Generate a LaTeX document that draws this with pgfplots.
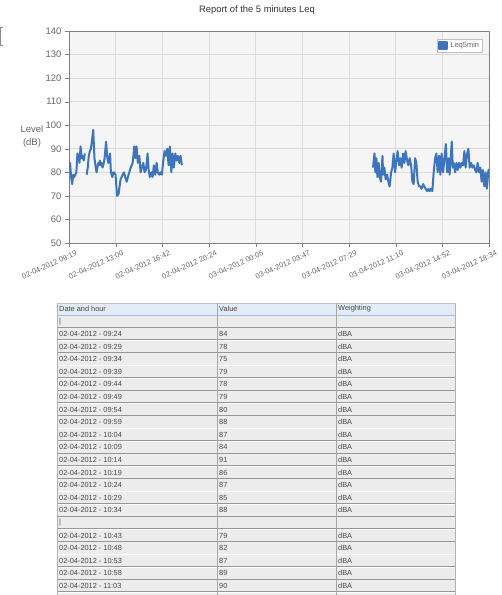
\documentclass[border=0pt]{standalone}
\usepackage{pgfplots}
\pgfplotsset{compat=1.18}
\usepackage{fontspec}
\setmainfont{Liberation Sans}
\definecolor{lineblue}{RGB}{62,116,190}
\definecolor{headfill}{RGB}{226,235,246}
\definecolor{headline}{RGB}{160,190,222}
\definecolor{rowfill}{RGB}{236,236,236}
\definecolor{sepcol}{RGB}{150,150,150}
\definecolor{txt}{RGB}{70,70,70}
\begin{document}
\begin{tikzpicture}[x=1bp,y=1bp]
\useasboundingbox (0,0) rectangle (502,595);
\draw[black!45, line width=0.6bp] (2.5,568) -- (0.5,568) -- (0.5,550) -- (2.5,550);
\node[font=\fontsize{9.4}{11}\selectfont, text=black!80] at (257,585) {Report of the 5 minutes Leq};
\node[align=center, font=\fontsize{9.5}{13}\selectfont, text=black!60] at (32,458) {Level\\(dB)};

\begin{axis}[
  at={(69bp,352bp)}, anchor=south west,
  scale only axis, width=420bp, height=212bp,
  xmin=0, xmax=1995, ymin=50, ymax=140,
  ytick={50,60,...,140},
  xtick={0,221.67,443.33,665,886.67,1108.33,1330,1551.67,1773.33,1995},
  xticklabels={02-04-2012 09:19,02-04-2012 13:00,02-04-2012 16:42,02-04-2012 20:24,03-04-2012 00:05,03-04-2012 03:47,03-04-2012 07:29,03-04-2012 11:10,03-04-2012 14:52,03-04-2012 18:34},
  grid=major, major grid style={draw=black!14, line width=0.6bp},
  axis background/.style={fill=black!4},
  axis line style={draw=black!50, line width=0.9bp},
  tick style={draw=black!50},
  xtick pos=bottom, ytick pos=left,
  tick align=outside, major tick length=4bp,
  /pgf/number format/assume math mode=true,
  yticklabel style={font=\fontsize{9.5}{10}\selectfont, text=black!60},
  xticklabel style={font=\fontsize{7.5}{8}\selectfont, text=black!60, rotate=24, anchor=north east, inner sep=0.5pt, xshift=5bp, yshift=-5bp},
  unbounded coords=jump,
  legend style={at={(0.984,0.962)}, anchor=north east, font=\fontsize{7.5}{8}\selectfont, text=black!60, draw=black!25, fill=white, inner sep=1pt, row sep=0pt},
  legend cell align=left,
]
\addplot[lineblue, line width=2bp, line join=round,
  legend image code/.code={\fill[lineblue] (0bp,-3.5bp) rectangle (8bp,3.5bp);}]
coordinates {
(0,84) (5,84) (10,78) (15,75) (20,79) (25,78) (30,79) (35,80) (40,88) (45,87) (50,84) (55,91) (60,86) (65,87) (70,85) (75,88) (80,nan)
(84,79) (89,82) (94,87) (99,89) (104,90) (110,94) (115,98) (121,86) (127,82) (131,80) (139,84) (143,83) (147,85) (151,83) (155,84) (159,82) (163,83) (169,86) (176,93) (182,86) (187,84) (191,86) (195,88) (199,80) (206,78) (210,80) (214,80) (221,79) (225,74) (229,70) (236,71) (240,74) (245,77) (250,78) (255,79) (261,80) (267,78) (274,76) (280,78) (286,80) (293,82) (298,83) (302,84) (306,87) (310,91) (316,86) (321,91) (327,84) (334,87) (340,80) (346,82) (353,84) (359,80) (365,81) (369,84) (373,88) (378,81) (384,78) (391,80) (397,78) (403,83) (410,79) (416,84) (422,80) (429,79) (435,80) (441,79) (448,85) (454,89) (460,87) (467,90) (473,83) (479,91) (486,80) (492,88) (498,82) (505,88) (511,85) (517,87) (524,84) (530,87) (536,83) (540,nan)
(1444,82) (1451,88) (1455,80) (1460,86) (1465,78) (1471,84) (1476,78) (1482,76) (1489,87) (1492,79) (1498,82) (1504,77) (1511,79) (1517,76) (1523,74) (1530,80) (1536,82) (1542,88) (1549,80) (1555,85) (1561,89) (1568,83) (1574,86) (1580,82) (1587,88) (1593,84) (1599,89) (1606,85) (1612,83) (1618,86) (1625,83) (1631,76) (1637,75) (1644,86) (1650,84) (1656,76) (1663,74) (1669,74) (1675,73) (1682,75) (1688,74) (1694,73) (1701,72) (1707,73) (1713,72) (1720,73) (1726,72) (1732,80) (1739,86) (1745,88) (1751,80) (1758,87) (1764,79) (1770,88) (1777,80) (1790,92) (1796,80) (1802,86) (1808,79) (1818,93) (1823,82) (1827,84) (1834,80) (1840,84) (1846,81) (1853,84) (1859,82) (1865,84) (1872,83) (1878,89) (1884,82) (1891,88) (1897,90) (1903,82) (1910,84) (1916,82) (1922,83) (1929,81) (1935,80) (1941,84) (1948,80) (1954,82) (1960,76) (1966,81) (1973,74) (1979,80) (1985,73) (1992,81) (1995,81)
};
\addlegendentry{Leq5min}
\end{axis}

% ---- table ----
\fill[headfill] (57,292) rectangle (455,280);
\draw[headline, line width=0.8bp] (57,280) -- (455,280);
\draw[black!25, line width=0.5bp] (57,292) -- (455,292);
\begin{scope}[every node/.style={anchor=west, font=\fontsize{7.4}{8}\selectfont, text=txt, inner sep=0pt}]
\node at (59,286) {Date and hour};
\node at (219,286) {Value};
\node at (338,286) {Weighting};
\foreach [count=\i from 0] \d/\v/\w in {
 {|}/{}/{},
 02-04-2012 - 09:24/84/dBA,
 02-04-2012 - 09:29/78/dBA,
 02-04-2012 - 09:34/75/dBA,
 02-04-2012 - 09:39/79/dBA,
 02-04-2012 - 09:44/78/dBA,
 02-04-2012 - 09:49/79/dBA,
 02-04-2012 - 09:54/80/dBA,
 02-04-2012 - 09:59/88/dBA,
 02-04-2012 - 10:04/87/dBA,
 02-04-2012 - 10:09/84/dBA,
 02-04-2012 - 10:14/91/dBA,
 02-04-2012 - 10:19/86/dBA,
 02-04-2012 - 10:24/87/dBA,
 02-04-2012 - 10:29/85/dBA,
 02-04-2012 - 10:34/88/dBA,
 {|}/{}/{},
 02-04-2012 - 10:43/79/dBA,
 02-04-2012 - 10:48/82/dBA,
 02-04-2012 - 10:53/87/dBA,
 02-04-2012 - 10:58/89/dBA,
 02-04-2012 - 11:03/90/dBA,
 {}/{}/{}}{
  \pgfmathsetmacro\top{280-\i*12.6}
  \pgfmathsetmacro\bot{\top-12.6}
  \pgfmathsetmacro\mid{\top-6.3}
  \fill[rowfill] (57,\top-0.6) rectangle (455,\bot+0.6);
  \draw[sepcol, line width=0.8bp] (57,\bot+0.4) -- (455,\bot+0.4);
  \draw[white, line width=0.5bp] (57,\bot-0.3) -- (455,\bot-0.3);
  \node at (59,\mid) {\d};
  \node at (219,\mid) {\v};
  \node at (338,\mid) {\w};
}
\end{scope}
\draw[black!35, line width=0.6bp] (217,292) -- (217,-10);
\draw[black!35, line width=0.6bp] (336,292) -- (336,-10);
\draw[black!30, line width=0.6bp] (57,292) -- (57,-10);
\draw[black!30, line width=0.6bp] (455,292) -- (455,-10);
\end{tikzpicture}
\end{document}
